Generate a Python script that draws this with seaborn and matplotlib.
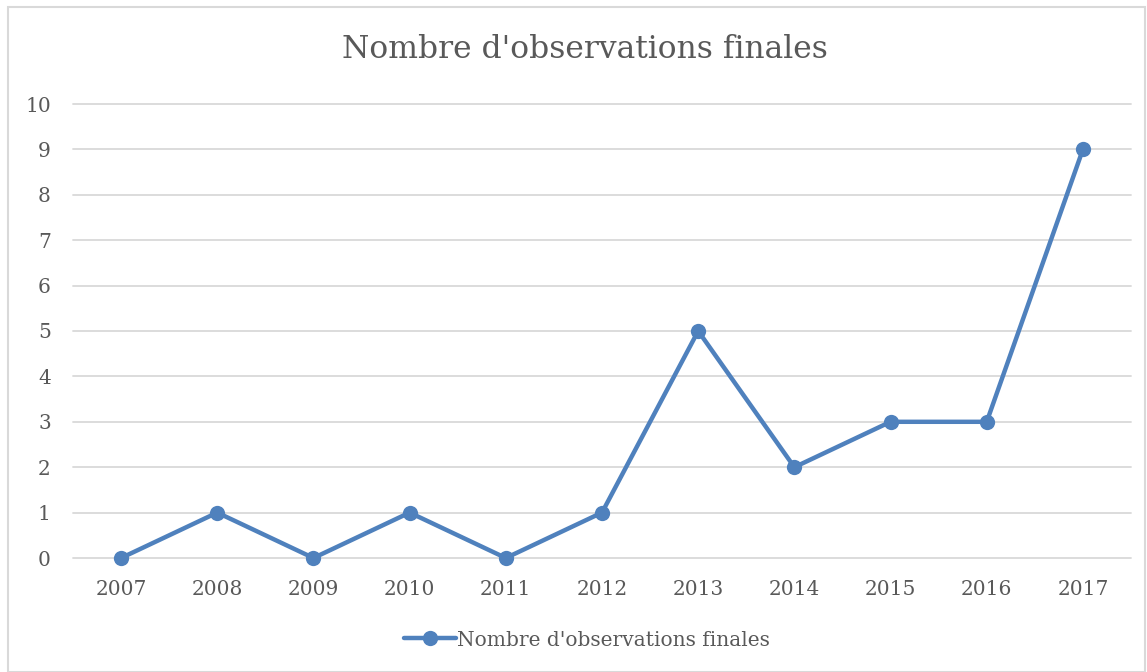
import matplotlib
matplotlib.use("Agg")
import matplotlib.pyplot as plt
import matplotlib.patches as mpatches
import seaborn as sns
import pandas as pd

years = ["2007", "2008", "2009", "2010", "2011", "2012", "2013", "2014", "2015", "2016", "2017"]
counts = [0, 1, 0, 1, 0, 1, 5, 2, 3, 3, 9]
series_name = "Nombre d'observations finales"
title = "Nombre d'observations finales"

df = pd.DataFrame({"year": years, "count": counts})

sns.set_style("white")
plt.rcParams["font.family"] = ["DejaVu Serif", "Liberation Serif"]

blue = "#4F81BD"
txt = "#595959"
grid = "#D9D9D9"

fig = plt.figure(figsize=(11.47, 6.72), dpi=100)
ax = fig.add_axes([73 / 1147, 1 - 558 / 672, 1058 / 1147, 454 / 672])

sns.lineplot(data=df, x="year", y="count", ax=ax, color=blue, linewidth=3.2,
             marker="o", markersize=11, markeredgewidth=0, label=series_name,
             sort=False, zorder=3, clip_on=False)

ax.set_ylim(0, 10)
ax.set_xlim(-0.5, len(years) - 0.5)
ax.set_yticks(range(0, 11))
ax.yaxis.grid(True, color=grid, linewidth=1.3)
for gl in ax.get_ygridlines():
    gl.set_clip_on(False)
ax.xaxis.grid(False)
for s in ax.spines.values():
    s.set_visible(False)
ax.tick_params(axis="both", length=0, labelsize=14.5, labelcolor=txt)
ax.tick_params(axis="x", pad=16)
ax.tick_params(axis="y", pad=16)
ax.set_xlabel("")
ax.set_ylabel("")

ax.get_legend().remove()
h, l = ax.get_legend_handles_labels()
fig.legend(h, l, loc="center", bbox_to_anchor=(587 / 1147, 1 - 640 / 672), frameon=False,
           fontsize=14.5, labelcolor=txt, handlelength=2.6, handletextpad=0.05)

fig.text(585 / 1147, 1 - 50 / 672, title, ha="center", va="center",
         fontsize=22.6, color=txt)

fig.patches.append(mpatches.Rectangle((8 / 1147, 0), 1137 / 1147, 1 - 7 / 672,
                                      transform=fig.transFigure, fill=False,
                                      edgecolor=grid, linewidth=1.5))

fig.savefig("out.png", dpi=100)
